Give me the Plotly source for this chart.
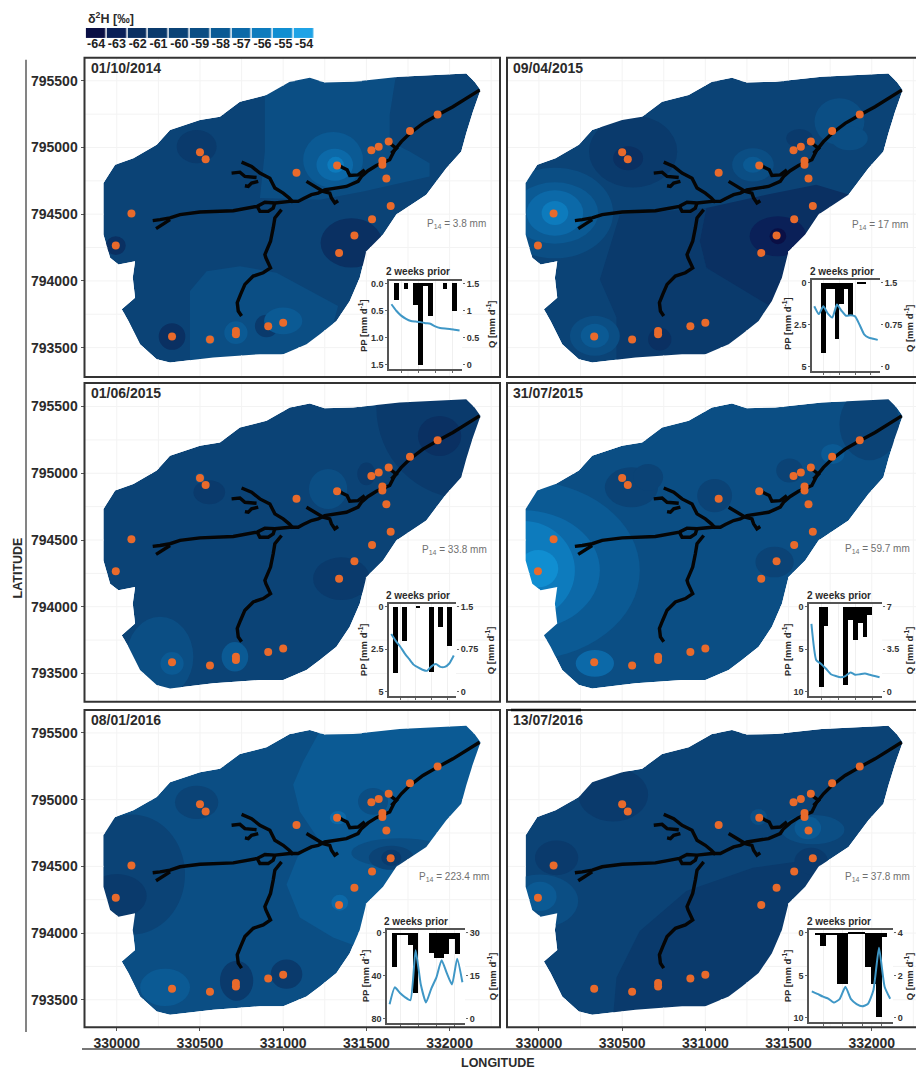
import plotly.graph_objects as go

# ---------- data ----------
LEVELS = [-64,-63,-62,-61,-60,-59,-58,-57,-56,-55,-54]
LEVEL_COLORS = ['#0a0f45','#0a2058','#0a3062','#0a3a6c','#0b4376','#0b4e84','#0b5a94','#0c69a8','#0d7bbd','#108ed1','#1fa3e6']
DATES = ['01/10/2014','09/04/2015','01/06/2015','31/07/2015','08/01/2016','13/07/2016']
P14 = ['3.8','17','33.8','59.7','223.4','37.8']
BASE_LEVEL = [-60,-60,-60,-59,-59,-60]

OUT_LON = [332100,332150,332186,332140,332100,332070,331980,331860,331680,331600,331500,331460,331400,331320,331220,331140,331000,330860,330580,330320,330240,330140,330070,330030,330110,330096,330110,330010,329960,329920,329920,329920,329990,330100,330240,330320,330500,330620,330740,330900,331040,331160,331250,331420,331700,332100]
OUT_LAT = [795555,795493,795430,795268,795107,794970,794845,794646,794497,794347,794223,794023,793849,793700,793600,793525,793451,793451,793426,793388,793413,793525,793700,793787,793874,794023,794148,794123,794173,794347,794546,794733,794870,794920,795020,795131,795206,795231,795343,795393,795493,795522,795488,795493,795530,795555]

SITE_LON = [330500,330534,331080,331324,331530,331574,331634,331762,331928,331596,331596,331620,331646,331534,331428,331336,330088,329994,330332,330560,330716,330716,330910,331000]
SITE_LAT = [794965,794912,794810,794865,794980,795005,795044,795124,795248,794900,794870,794768,794561,794462,794340,794210,794506,794265,793583,793560,793625,793600,793660,793687]

STREAM_LON = [332180,332100,332020,331928,331840,331762,331710,331670,331640,331560,331510,331470,331450,331380,331300,331250,331210,331170,331120,331090,331040,330980,330950,330890,330844,330700,330500,330380,330320,330260,330216,None,
              330950,330940,330910,330860,330844,None,330320,330280,330236,None,
              330990,330950,330940,330924,330890,330896,330924,330880,330820,330770,330744,330724,330730,330750,None,
              331060,331036,331000,330950,330920,330860,330810,330750,None,
              330690,330740,330770,330840,None,330850,330810,330790,330770,None,
              331490,331450,331400,331384,331356,331330,None,
              331140,331190,331240,331280,331290,331310,331330,None,
              331640,331680,331650]
STREAM_LAT = [795430,795368,795306,795244,795181,795107,795044,794982,794908,794865,794826,794783,794746,794708,794696,794683,794658,794646,794616,794596,794596,794584,794584,794589,794559,794526,794516,794497,794472,794459,794452,None,
              794584,794546,794521,794521,794559,None,794459,794427,794392,None,
              794534,794472,794397,794297,794198,794173,794098,794061,794036,793974,793899,793837,793774,793737,None,
              794589,794621,794658,794696,794770,794808,794858,794890,None,
              794808,794815,794783,794775,None,794746,794733,794708,794713,None,
              794833,794795,794790,794833,794850,794870,None,
              794746,794708,794671,794658,794621,794584,794601,None,
              795032,794994,794957]

# polygon zones: (level, lons, lats)
POLY_1 = [(-59,[330890,330890,330860,331220,331480,331880,331880,331760,331640,331640,331680,330900],[795393,794970,794621,794609,794671,794783,794882,794970,795044,795244,795560,795560]),
          (-59,[330440,330440,330540,330740,330960,331330,331300,331140,330860],[793380,793924,794073,794110,794061,793812,793675,793500,793400])]
POLY_2 = [(-61,[330486,330366,330466,330466,331246,331446,331006,330966,331006],[794497,794011,793725,793350,793350,793799,794098,794297,794546]),
          (-62,[331006,331366,331666,331866,331766,331526,331406,331006,330966],[794546,794646,794721,794646,794397,794198,793799,794098,794297])]
POLY_3 = []
POLY_4 = []
POLY_5 = [(-58,[331240,332180,332220,332020,331460,331300,331100,331020,331100,331220,331100,331060,331120],[795560,795560,795410,794663,793891,793966,794116,794365,794614,794688,794912,795111,795286])]
POLY_6 = [(-61,[330446,330466,330606,330886,331286,331566,331736,331646,331486,331446,331226,331026,330566],[793380,793667,794016,794315,794489,794539,794539,794352,794116,793867,793543,793443,793380])]

# elliptical zones: (lon, lat, rx, ry, level)
ELL_1 = [(330480,795007,120,125,-61),(331300,794907,180,210,-58),(331310,794870,110,120,-57),(331315,794870,50,60,-56),
         (331410,794285,185,185,-62),(329994,794265,60,70,-62),(330332,793583,80,100,-62),
         (330900,793662,70,85,-61),(331000,793700,115,100,-58),(330716,793612,70,85,-58),(330560,793560,30,35,-58)]
ELL_2 = [(330566,794970,265,270,-61),(330536,794920,90,90,-62),(330096,794509,350,340,-59),(330096,794509,260,230,-58),
         (330096,794509,170,170,-57),(330096,794509,80,90,-56),(330336,793588,150,150,-59),(330336,793588,85,90,-58),
         (331286,794870,125,125,-59),(331286,794870,60,60,-58),(331806,795194,150,175,-59),(331866,795069,110,90,-59),
         (331436,794335,170,150,-63),(331436,794335,50,60,-64),(330726,793563,70,85,-62),(331566,795069,80,70,-61)]
ELL_3 = [(332100,795490,540,680,-61),(331940,795280,130,150,-62),(331350,794210,170,160,-61),(330260,793625,200,300,-59),
         (330332,793575,70,85,-58),(330710,793625,80,110,-58),(331270,794882,115,150,-59),(330556,794858,95,90,-61),
         (331500,794995,55,85,-61),(330500,794965,30,40,-59)]
ELL_4 = [(329906,794272,700,672,-58),(329906,794272,460,450,-57),(329906,794272,310,370,-56),(329996,794285,120,140,-55),
         (331986,795368,180,270,-60),(330556,794895,160,150,-60),(330656,794970,90,100,-60),(331056,794833,105,125,-60),
         (331506,795020,80,90,-60),(331416,794335,115,115,-60),(330336,793575,115,100,-57),(331766,795145,70,75,-58)]
ELL_5 = [(330090,794439,320,450,-60),(330000,794277,180,165,-61),(331700,794601,290,110,-59),(331650,794564,135,90,-60),
         (331650,794564,60,60,-61),(331650,794564,25,25,-62),(330290,793593,150,140,-58),(330720,793643,100,150,-61),
         (331020,793692,95,110,-61),(330480,794980,130,125,-60),(331540,794987,90,100,-59),(331330,794865,50,50,-57),
         (331340,794228,50,60,-57)]
ELL_6 = [(330446,795037,210,200,-61),(330106,794564,130,130,-61),(330006,794240,230,200,-59),(330006,794275,100,110,-58),
         (331646,794775,190,110,-59),(331616,794788,80,85,-58),(331636,794539,100,100,-61),(331320,794870,50,60,-59)]

DAYS = list(range(1,16))
PP_1 = [0,.3,0,.1,0,.4,1.5,.05,.6,0,0,.1,0,.5,0]
Q_1 = [1.12,1.0,.91,.85,.81,.80,.79,.77,.76,.71,.68,.67,.665,.65,.635]
PP_2 = [0,0,4.2,.4,.4,3.35,1.3,.4,2.0,0,.1,.1,0,0,0]
Q_2 = [1.08,.94,1.08,.95,.88,1.11,1.0,.91,.92,.9,.75,.58,.52,.5,.48]
PP_3 = [0,3.9,0,2.0,0,0,.05,0,0,3.85,0,1.2,0,2.3,0]
Q_3 = [1.02,.9,.8,.68,.58,.48,.43,.39,.37,.45,.49,.44,.44,.5,.64]
PP_4 = [0,0,9.5,2.3,0,0,0,9.2,1.6,3.9,1.9,3.6,1.0,0,0]
Q_4 = [5.6,2.6,2.3,1.9,1.45,1.3,1.2,1.3,1.6,1.4,1.45,1.5,1.4,1.3,1.2]
PP_5 = [0,32,2,2,12,56,0,0,19,24,24,20,6,20,0]
Q_5 = [5.1,11,9,7.5,6.5,24,12,5.7,10.5,14.5,20.5,16,12,21,12.8]
PP_6 = [0,.3,1.6,.3,.3,6.1,6.1,.2,.2,.2,4,6,9.9,.5,0]
Q_6 = [1.25,1.13,1.0,.9,.72,.9,1.47,.88,.65,.55,.65,1.3,3.3,1.47,.9]

PP_TICKS = [[0,.5,1,1.5],[0,2.5,5],[0,2.5,5],[0,5,10],[0,40,80],[0,5,10]]
PP_TEXT = [['0.0','0.5','1.0','1.5'],['0','2.5','5'],['0','2.5','5'],['0','5','10'],['0','40','80'],['0','5','10']]
Q_TICKS = [[0,.5,1,1.5],[0,.75,1.5],[0,.75,1.5],[0,3.5,7],[0,15,30],[0,2,4]]
Q_TEXT = [['0','0.5','1','1.5'],['0','0.75','1.5'],['0','0.75','1.5'],['0','3.5','7'],['0','15','30'],['0','2','4']]

LON_TICKS = [330000,330500,331000,331500,332000]
LAT_TICKS = [793500,794000,794500,795000,795500]

# ---------- layout geometry (pixels) ----------
W, H = 916, 1074
PANEL_X = [(84.5,500,329806,332303),(507,916,329808,332266)]
PANEL_Y = [(56,376,793280,795672),(382,701.7,793288,795677),(710,1028,793295,795672)]
INSET = [(389,462,280,368),(812,880,279,370),(389,456,604,696),(809,882,604,696),(387,465,931,1024),(809,893,931,1023)]
INSET_TITLE = [(418,270),(842,270),(418,595),(839,595),(416,922),(839,922)]
P14_POS = [(425,223),(850,224),(420,550),(843,549),(417,877),(843,877)]
PP_LABEL = [(363,325),(787,323),(363,650),(787,650),(365,977),(787,977)]
Q_LABEL = [(491,323),(909,327),(490,650),(909,650),(492,977),(909,977)]
FONT = 'Liberation Sans'

POLYS = [POLY_1,POLY_2,POLY_3,POLY_4,POLY_5,POLY_6]
ELLS = [ELL_1,ELL_2,ELL_3,ELL_4,ELL_5,ELL_6]
PPS = [PP_1,PP_2,PP_3,PP_4,PP_5,PP_6]
QS = [Q_1,Q_2,Q_3,Q_4,Q_5,Q_6]

def fx(p): return p / W
def fy(p): return 1 - p / H
def col(level): return LEVEL_COLORS[LEVELS.index(level)]
def ax(prefix, n): return prefix + ('' if n == 1 else str(n))

def text(x, y, s, size, color='#2b2b2b', bold=True, angle=0, xanchor='center'):
    return dict(xref='paper', yref='paper', x=fx(x), y=fy(y), text=f'<b>{s}</b>' if bold else s,
                showarrow=False, xanchor=xanchor, yanchor='middle', textangle=angle,
                font=dict(family=FONT, size=size, color=color))

def crossings(g, a, b):
    out = []
    n = len(a)
    for i in range(n):
        a0, a1, b0, b1 = a[i], a[(i+1) % n], b[i], b[(i+1) % n]
        if (a0 <= g < a1) or (a1 <= g < a0):
            out.append(b0 + (g - a0) * (b1 - b0) / (a1 - a0))
    return sorted(out)

fig = go.Figure()
layout = dict(width=W, height=H, margin=dict(l=0, r=0, t=0, b=0), paper_bgcolor='white',
              plot_bgcolor='white', showlegend=False, bargap=0)
shapes, annos = [], []

for i in range(6):
    n = i + 1
    x0, x1, lon0, lon1 = PANEL_X[i % 2]
    y0, y1, lat0, lat1 = PANEL_Y[i // 2]
    xa, ya = ax('x', n), ax('y', n)
    layout[ax('xaxis', n)] = dict(domain=[fx(x0), fx(x1)], range=[lon0, lon1], anchor=ya, showgrid=False, zeroline=False,
        tickvals=LON_TICKS, ticktext=[f'<b>{v}</b>' for v in LON_TICKS], showticklabels=(i >= 4), ticks='outside' if i >= 4 else '', ticklen=3, tickcolor='#555',
        tickfont=dict(family=FONT, size=14, color='#2b2b2b'))
    layout[ax('yaxis', n)] = dict(domain=[fy(y1), fy(y0)], range=[lat0, lat1], anchor=xa, showgrid=False, zeroline=False,
        tickvals=LAT_TICKS, ticktext=[f'<b>{v}</b>' for v in LAT_TICKS], showticklabels=(i % 2 == 0), ticks='outside' if i % 2 == 0 else '', ticklen=3, tickcolor='#555',
        tickfont=dict(family=FONT, size=14, color='#2b2b2b'))

    # isotope bands
    pts = ' L '.join(f'{a} {b}' for a, b in zip(OUT_LON, OUT_LAT))
    shapes.append(dict(type='path', path=f'M {pts} Z', xref=xa, yref=ya, layer='below',
                       fillcolor=col(BASE_LEVEL[i]), line=dict(width=0)))
    for lev, lons, lats in POLYS[i]:
        pts = ' L '.join(f'{a} {b}' for a, b in zip(lons, lats))
        shapes.append(dict(type='path', path=f'M {pts} Z', xref=xa, yref=ya, layer='below',
                           fillcolor=col(lev), line=dict(width=0)))
    for cx, cy, rx, ry, lev in ELLS[i]:
        shapes.append(dict(type='circle', x0=cx-rx, x1=cx+rx, y0=cy-ry, y1=cy+ry, xref=xa, yref=ya, layer='below',
                           fillcolor=col(lev), line=dict(width=0)))

    # white mask outside catchment
    mx = [lon0-50, lon1+50, lon1+50, lon0-50, lon0-50, None] + OUT_LON + [OUT_LON[0]]
    my = [lat0-50, lat0-50, lat1+50, lat1+50, lat0-50, None] + OUT_LAT + [OUT_LAT[0]]
    fig.add_trace(go.Scatter(x=mx, y=my, xaxis=xa, yaxis=ya, mode='lines', fill='toself', fillcolor='white',
                             line=dict(width=0), hoverinfo='skip'))

    # faint grid, outside the catchment only
    gx, gy = [], []
    for g in range(329750, 332501, 250):
        if lon0 < g < lon1:
            c = [lat0] + crossings(g, OUT_LON, OUT_LAT) + [lat1]
            for k in range(0, len(c), 2):
                gx += [g, g, None]; gy += [c[k], c[k+1], None]
    for g in range(793250, 795751, 250):
        if lat0 < g < lat1:
            c = [lon0] + crossings(g, OUT_LAT, OUT_LON) + [lon1]
            for k in range(0, len(c), 2):
                gx += [c[k], c[k+1], None]; gy += [g, g, None]
    fig.add_trace(go.Scatter(x=gx, y=gy, xaxis=xa, yaxis=ya, mode='lines', line=dict(color='#f3f3f3', width=1), hoverinfo='skip'))

    fig.add_trace(go.Scatter(x=STREAM_LON, y=STREAM_LAT, xaxis=xa, yaxis=ya, mode='lines',
                             line=dict(color='#050505', width=3.4), hoverinfo='skip'))
    fig.add_trace(go.Scatter(x=SITE_LON, y=SITE_LAT, xaxis=xa, yaxis=ya, mode='markers',
                             marker=dict(color='#e96a2b', size=8, line=dict(width=0))))

    # frame
    shapes.append(dict(type='rect', xref='paper', yref='paper', x0=fx(x0), x1=fx(x1 if i % 2 == 0 else 923),
                       y0=fy(y1), y1=fy(y0), line=dict(color='#333333', width=2), layer='above'))
    annos.append(text(x0+4, y0+10, DATES[i], 14, xanchor='left'))
    px, py = P14_POS[i]
    annos.append(text(px, py, f'P<sub>14</sub> = {P14[i]} mm', 10, color='#707070', bold=False, xanchor='left'))

    # inset
    ix0, ix1, iy0, iy1 = INSET[i]
    m = 10 + n; r = 20 + n
    pmax, qmax = PP_TICKS[i][-1], Q_TICKS[i][-1]
    small = dict(family=FONT, size=9, color='#333333')
    layout[f'xaxis{m}'] = dict(domain=[fx(ix0), fx(ix1)], range=[.5, 15.5], anchor=f'y{m}', tickvals=[3,6.5,10,13.5],
        showticklabels=False, ticks='outside', ticklen=2, tickcolor='#666', showgrid=True, gridcolor='#f0f0f0', zeroline=False,
        showline=True, mirror=True, linecolor='#555555', linewidth=1.5)
    layout[f'yaxis{m}'] = dict(domain=[fy(iy1), fy(iy0)], range=[pmax*1.05, -pmax*.03], anchor=f'x{m}',
        tickvals=PP_TICKS[i], ticktext=[f'<b>{t}</b>' for t in PP_TEXT[i]], ticks='outside', ticklen=2, tickcolor='#666',
        tickfont=small, showgrid=False, zeroline=False, showline=True, linecolor='#555555', linewidth=1.5)
    layout[f'yaxis{r}'] = dict(domain=[fy(iy1), fy(iy0)], range=[-qmax*.05, qmax*1.03], anchor=f'x{m}', overlaying=f'y{m}', side='right',
        tickvals=Q_TICKS[i], ticktext=[f'<b>{t}</b>' for t in Q_TEXT[i]], ticks='outside', ticklen=2, tickcolor='#666',
        tickfont=small, showgrid=False, zeroline=False)
    fig.add_trace(go.Bar(x=DAYS, y=PPS[i], xaxis=f'x{m}', yaxis=f'y{m}', width=1, marker=dict(color='black', line=dict(width=0))))
    fig.add_trace(go.Scatter(x=DAYS, y=QS[i], xaxis=f'x{m}', yaxis=f'y{r}', mode='lines',
                             line=dict(color='#3f97c6', width=2, shape='spline', smoothing=.5), hoverinfo='skip'))
    tx, ty = INSET_TITLE[i]
    annos.append(text(tx, ty, '2 weeks prior', 10))
    lx, ly = PP_LABEL[i]
    annos.append(text(lx, ly, 'PP [mm d<sup>-1</sup>]', 9.5, angle=-90))
    lx, ly = Q_LABEL[i]
    annos.append(text(lx, ly, 'Q [mm d<sup>-1</sup>]', 9.5, angle=-90))

# colour key
stops = []
for k, c in enumerate(LEVEL_COLORS):
    stops += [[k/len(LEVELS), c], [(k+1)/len(LEVELS), c]]
fig.add_trace(go.Heatmap(x=LEVELS, y=[0], z=[LEVELS], xaxis='x30', yaxis='y30', colorscale=stops, showscale=False,
                         zmin=-64.5, zmax=-53.5, xgap=1.5, hoverinfo='skip'))
layout['xaxis30'] = dict(domain=[fx(85.7), fx(314.5)], range=[-64.5, -53.5], anchor='y30', tickvals=LEVELS,
    ticktext=[f'<b>{v}</b>' for v in LEVELS], ticks='', showgrid=False, zeroline=False, showline=False,
    tickfont=dict(family=FONT, size=12.5, color='#222222'), ticklabelstandoff=-3)
layout['yaxis30'] = dict(domain=[fy(36), fy(26)], range=[-.5, .5], anchor='x30', showticklabels=False, ticks='', showgrid=False, zeroline=False)

annos.append(text(86, 16, 'δ<sup>2</sup>H [‰]', 12.5, xanchor='left'))
annos.append(text(18, 568, 'LATITUDE', 12.5, angle=-90))
annos.append(text(498, 1064, 'LONGITUDE', 12.5))
shapes.append(dict(type='line', xref='paper', yref='paper', x0=fx(26), x1=fx(26), y0=fy(58), y1=fy(1033), line=dict(color='#777777', width=1.8), layer='above'))
shapes.append(dict(type='line', xref='paper', yref='paper', x0=fx(82), x1=1, y0=fy(1050), y1=fy(1050), line=dict(color='#777777', width=2), layer='above'))
shapes.append(dict(type='line', xref='paper', yref='paper', x0=fx(511), x1=fx(581), y0=fy(710), y1=fy(710), line=dict(color='#111111', width=2.5), layer='above'))

fig.update_layout(shapes=shapes, annotations=annos, **layout)
fig.write_html('out.html', config=dict(displayModeBar=False),
               post_script="document.body.style.margin='0';document.body.style.overflow='hidden';")
